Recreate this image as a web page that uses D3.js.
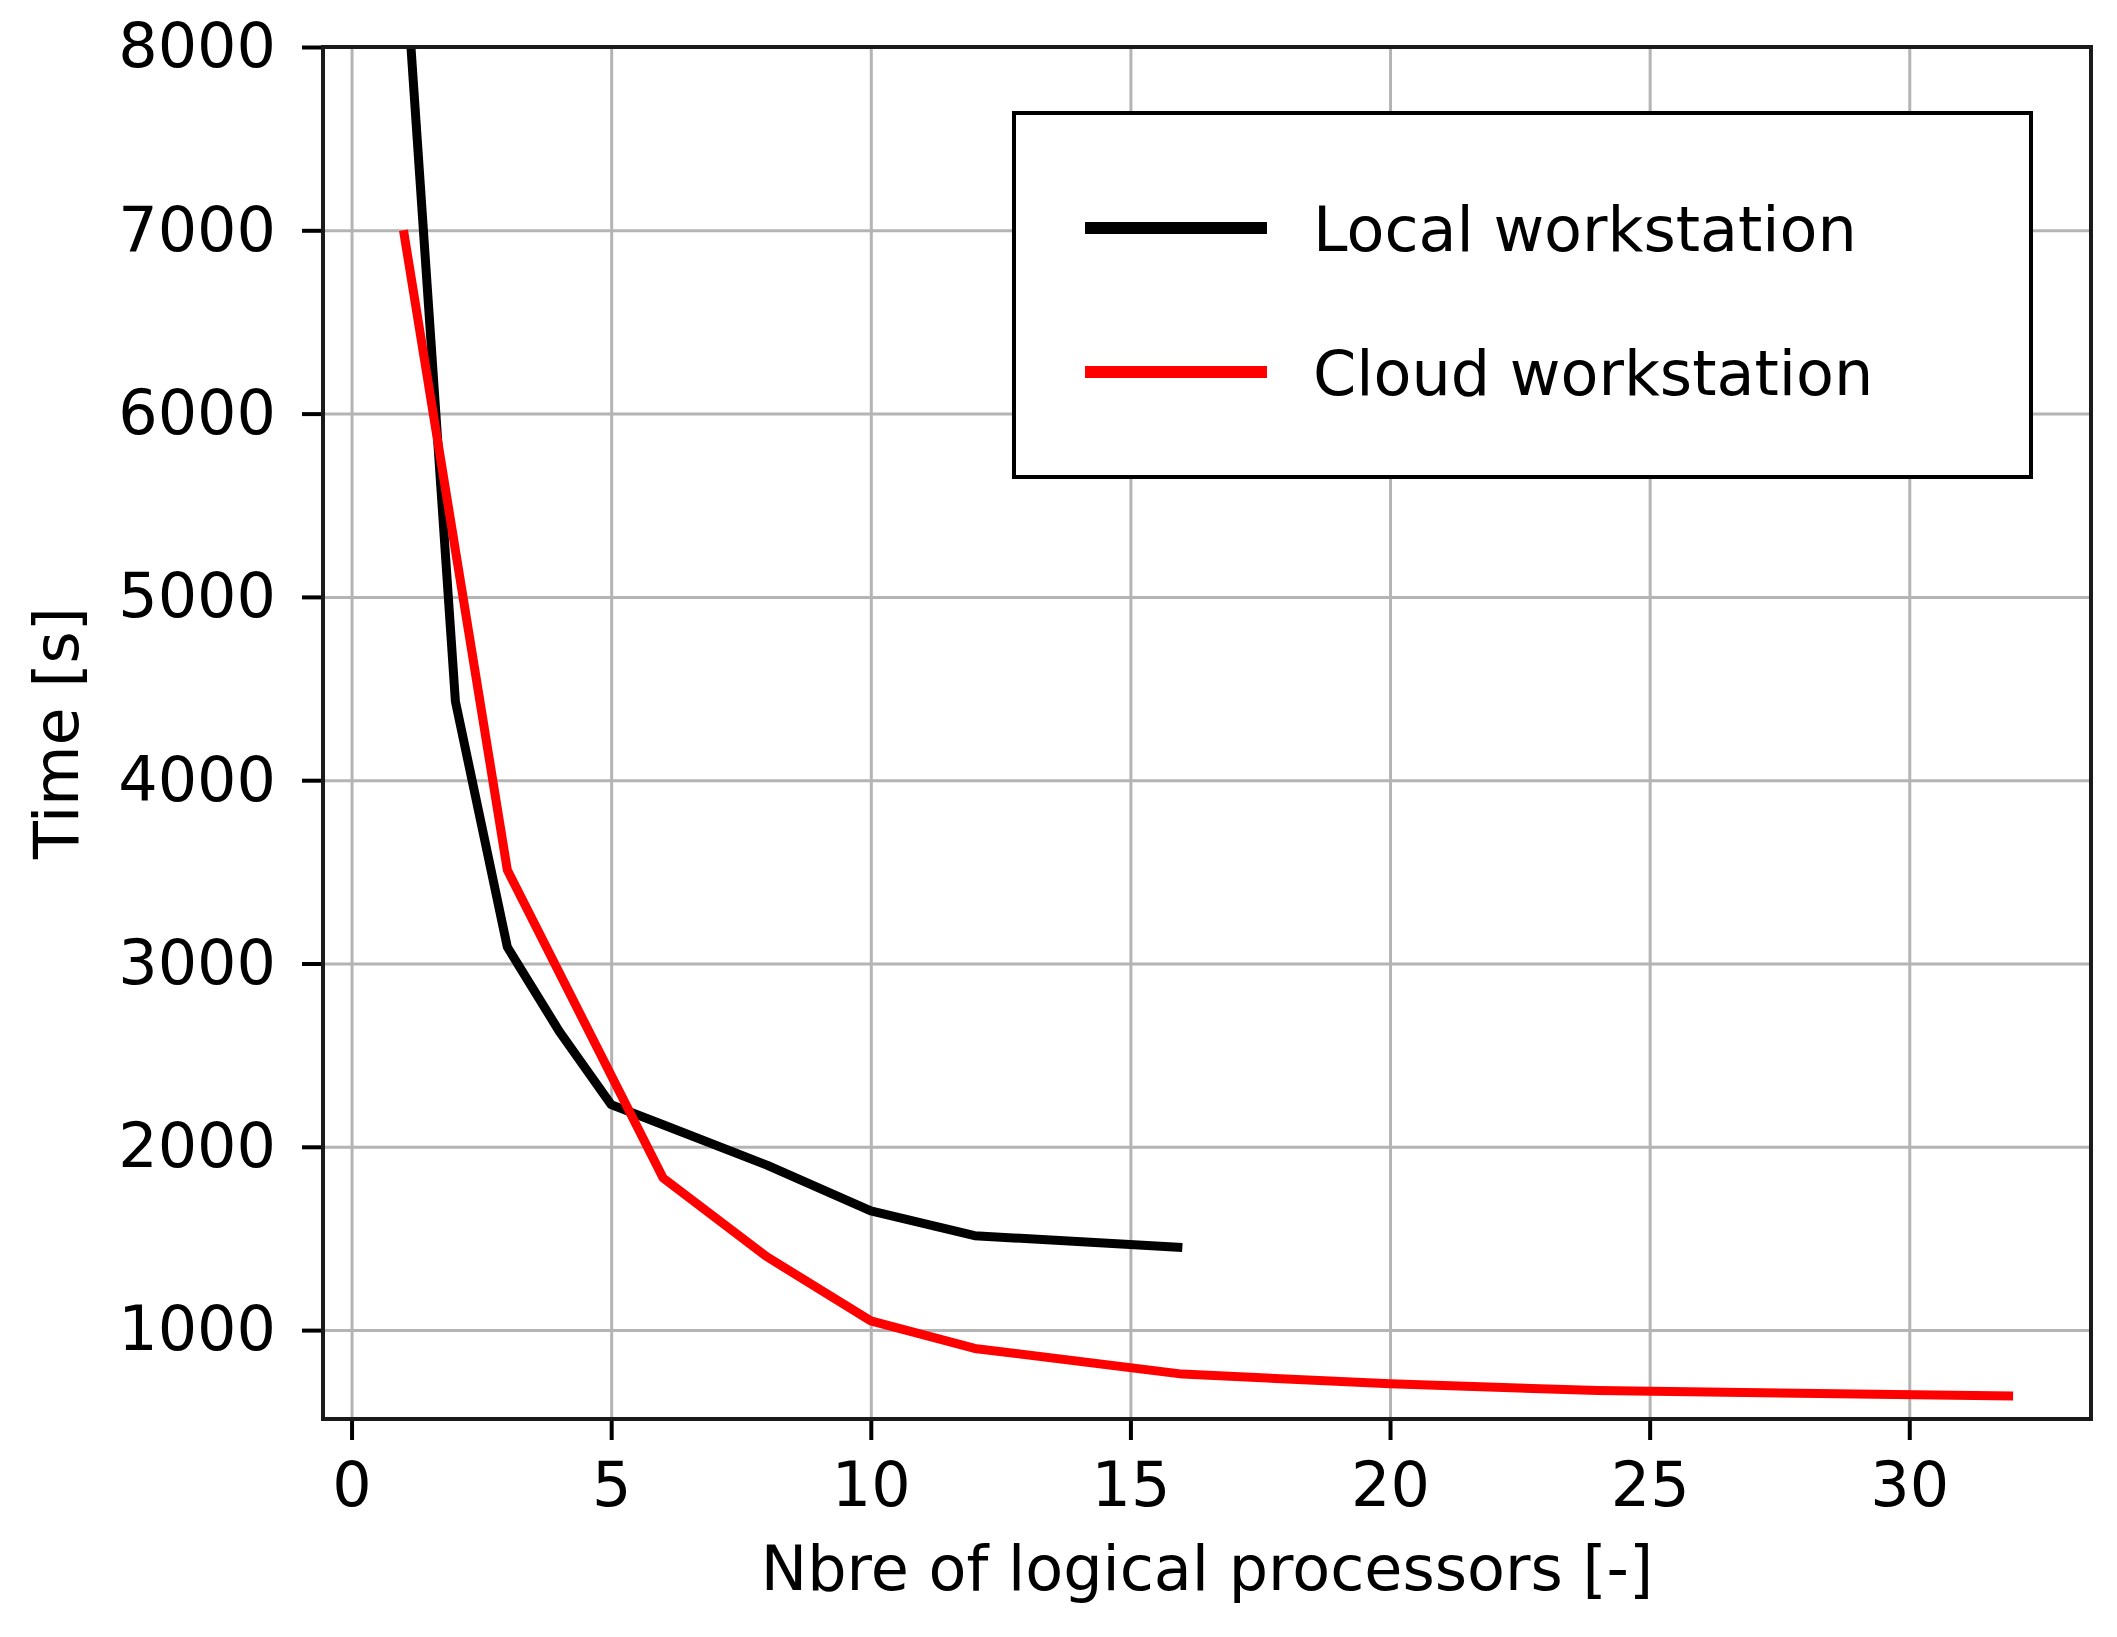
<!DOCTYPE html>
<html><head><meta charset="utf-8">
<script src="https://cdn.jsdelivr.net/npm/d3@7"></script>
<style>body{margin:0;background:#fff}</style>
</head><body>
<svg id="chart" width="2117" height="1637"></svg>
<script>
const xTicks=[0,5,10,15,20,25,30];
const yTicks=[1000,2000,3000,4000,5000,6000,7000,8000];
const seriesNames=["Local workstation","Cloud workstation"];
const seriesColors=["#000000","#ff0000"];
const localX=[1,2,3,4,5,6,8,10,12,16];
const localY=[8600,4430,3090,2630,2230,2120,1900,1650,1515,1450];
const cloudX=[1,3,6,8,10,12,16,20,24,32];
const cloudY=[7000,3510,1830,1400,1050,900,760,707,670,640];
const xLabel="Nbre of logical processors [-]";
const yLabel="Time [s]";

const L=323,R=2091,T=47,B=1419;
const FONT="DejaVu Sans", FS=62;
const svg=d3.select("#chart");
svg.append("rect").attr("width",2117).attr("height",1637).attr("fill","#fff");
const x=d3.scaleLinear().domain([-0.55,33.5]).range([L,R]);
const y=d3.scaleLinear().domain([515,8000]).range([B,T]);

svg.append("defs").append("clipPath").attr("id","clip")
  .append("rect").attr("x",L).attr("y",T).attr("width",R-L).attr("height",B-T);

// grid
const gx=svg.append("g").attr("transform",`translate(0,${B})`)
  .call(d3.axisBottom(x).tickValues(xTicks).tickSize(-(B-T)).tickFormat(""));
const gy=svg.append("g").attr("transform",`translate(${L},0)`)
  .call(d3.axisLeft(y).tickValues(yTicks).tickSize(-(R-L)).tickFormat(""));
[gx,gy].forEach(g=>{g.select(".domain").remove();
  g.selectAll("line").attr("stroke","#b4b4b4").attr("stroke-width",3);});

// lines
const line=d3.line().x(d=>x(d[0])).y(d=>y(d[1]));
const series=[d3.zip(localX,localY),d3.zip(cloudX,cloudY)];
const lg=svg.append("g").attr("clip-path","url(#clip)");
series.forEach((s,i)=>{
  lg.append("path").datum(s).attr("d",line).attr("fill","none")
    .attr("stroke",seriesColors[i]).attr("stroke-width",9)
    .attr("stroke-linejoin","round").attr("stroke-linecap","butt");
});

// axes
const ax=svg.append("g").attr("transform",`translate(0,${B})`)
  .call(d3.axisBottom(x).tickValues(xTicks).tickSize(21).tickFormat(d3.format("d")));
ax.select(".domain").remove();
ax.selectAll("line").attr("stroke","#000").attr("stroke-width",4);
ax.selectAll("text").attr("y",87).attr("dy",null)
  .attr("font-family",FONT).attr("font-size",FS).attr("fill","#000");

const ay=svg.append("g").attr("transform",`translate(${L},0)`)
  .call(d3.axisLeft(y).tickValues(yTicks).tickSize(21).tickPadding(26).tickFormat(d3.format("d")));
ay.select(".domain").remove();
ay.selectAll("line").attr("stroke","#000").attr("stroke-width",4);
ay.selectAll("text").attr("font-family",FONT).attr("font-size",FS).attr("fill","#000");

// frame
svg.append("rect").attr("x",L).attr("y",T).attr("width",R-L).attr("height",B-T)
  .attr("fill","none").attr("stroke","#1a1a1a").attr("stroke-width",4);

// axis labels
svg.append("text").attr("x",(L+R)/2).attr("y",1590).attr("text-anchor","middle")
  .attr("font-family",FONT).attr("font-size",62).text(xLabel);
svg.append("text").attr("transform",`translate(78,${(T+B)/2}) rotate(-90)`)
  .attr("text-anchor","middle").attr("font-family",FONT).attr("font-size",62).text(yLabel);

// legend
const leg=svg.append("g");
leg.append("rect").attr("x",1014).attr("y",113).attr("width",1017).attr("height",364)
  .attr("fill","#fff").attr("stroke","#000").attr("stroke-width",4);
const legY=[228,372];
seriesNames.forEach((n,i)=>{
  leg.append("line").attr("x1",1085).attr("x2",1267).attr("y1",legY[i]).attr("y2",legY[i])
    .attr("stroke",seriesColors[i]).attr("stroke-width",12);
  leg.append("text").attr("x",1313).attr("y",legY[i]+23).attr("font-family",FONT)
    .attr("font-size",62).attr("fill","#000").text(n);
});
</script>
</body></html>
